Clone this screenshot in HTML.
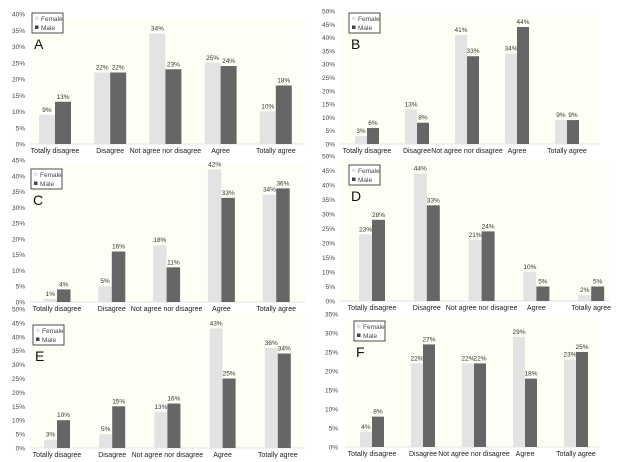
<!DOCTYPE html>
<html><head><meta charset="utf-8"><style>
body{margin:0;background:#fff;}
svg{display:block;font-family:"Liberation Sans",Arial,sans-serif;}
</style></head><body>
<svg id="c" width="624" height="462"></svg>
<script>
const categories=["Totally disagree","Disagree","Not agree nor disagree","Agree","Totally agree"];
const femaleA=[9,22,34,25,10], maleA=[13,22,23,24,18];
const femaleB=[3,13,41,34,9], maleB=[6,8,33,44,9];
const femaleC=[1,5,18,42,34], maleC=[4,16,11,33,36];
const femaleD=[23,44,21,10,2], maleD=[28,33,24,5,5];
const femaleE=[3,5,13,43,36], maleE=[10,15,16,25,34];
const femaleF=[4,22,22,29,23], maleF=[8,27,22,18,25];
const maxA=40,maxB=50,maxC=45,maxD=50,maxE=50,maxF=35;
const panels=[
 {id:'A',f:femaleA,m:maleA,max:maxA,top:14,bot:144,tx:25,x0:30,x1:305,c0:55,sp:55.2,bw:16,ly:153,lg:[32,13]},
 {id:'B',f:femaleB,m:maleB,max:maxB,top:11,bot:144,tx:335,x0:340,x1:600,c0:367,sp:50,bw:12,ly:153,lg:[349,13]},
 {id:'C',f:femaleC,m:maleC,max:maxC,top:160,bot:302,tx:25,x0:30,x1:305,c0:57,sp:54.8,bw:13.5,ly:311,lg:[31,169]},
 {id:'D',f:femaleD,m:maleD,max:maxD,top:156,bot:301,tx:335,x0:340,x1:610,c0:372,sp:54.8,bw:13,ly:310,lg:[349,165]},
 {id:'E',f:femaleE,m:maleE,max:maxE,top:309,bot:448,tx:25,x0:30,x1:305,c0:57,sp:55.2,bw:13,ly:457,lg:[33,325]},
 {id:'F',f:femaleF,m:maleF,max:maxF,top:314,bot:447,tx:338,x0:345,x1:600,c0:372,sp:51,bw:12,ly:456,lg:[354,321]}
];
const svg=document.getElementById('c');
const NS='http://www.w3.org/2000/svg';
function mk(t,a,txt){const e=document.createElementNS(NS,t);for(const k in a)e.setAttribute(k,a[k]);if(txt!==undefined)e.textContent=txt;svg.appendChild(e);return e;}
panels.forEach(p=>{
 const bg=mk('rect',{x:p.x0,y:p.top+4,width:p.x1-p.x0,height:p.bot-p.top-4,fill:'#fffef4'});
 
 
});
panels.forEach(p=>{
 const y=v=>p.bot-(v/p.max)*(p.bot-p.top);
 const x=i=>p.c0+i*p.sp;
 for(let v=0;v<=p.max;v+=5){
  const t=mk('text',{x:p.tx,y:y(v)+2.5,'font-size':6.5,'text-anchor':'end',fill:'#444'},v+'%');
  
  
 }
 const ax=mk('line',{x1:p.x0,x2:p.x1,y1:p.bot,y2:p.bot,stroke:'#ddd','stroke-width':0.8});
 
 
 categories.forEach((c,i)=>{
  [[p.f[i],-1,'#e3e3e3','female'],[p.m[i],0,'#666','male']].forEach(([v,o,col,nm])=>{
   const bx=x(i)+o*p.bw;
   const r=mk('rect',{x:bx,y:y(v),width:p.bw,height:p.bot-y(v),fill:col});
   
   
   const t=mk('text',{x:bx+p.bw/2,y:y(v)-3,'font-size':6.5,'text-anchor':'middle',fill:'#333'},v+'%');
   
   
  });
  const l=mk('text',{x:x(i),y:p.ly,'font-size':7,'text-anchor':'middle',fill:'#222'},c);
  
  
 });
 const [lx,ly]=p.lg;
 const lb=mk('rect',{x:lx,y:ly,width:31,height:20,fill:'#fff',stroke:'#222','stroke-width':0.8});
 
 
 mk('rect',{x:lx+3,y:ly+3.5,width:3.5,height:3.5,fill:'#e3e3e3'});
 const t1=mk('text',{x:lx+9,y:ly+8,'font-size':6.5,fill:'#444'},'Female');
 
 
 mk('rect',{x:lx+3,y:ly+12.5,width:3.5,height:3.5,fill:'#444'});
 const t2=mk('text',{x:lx+9,y:ly+17,'font-size':6.5,fill:'#444'},'Male');
 
 
 const pl=mk('text',{x:lx+2,y:ly+36,'font-size':14,fill:'#111'},p.id);
 
 
});
</script>
</body></html>
